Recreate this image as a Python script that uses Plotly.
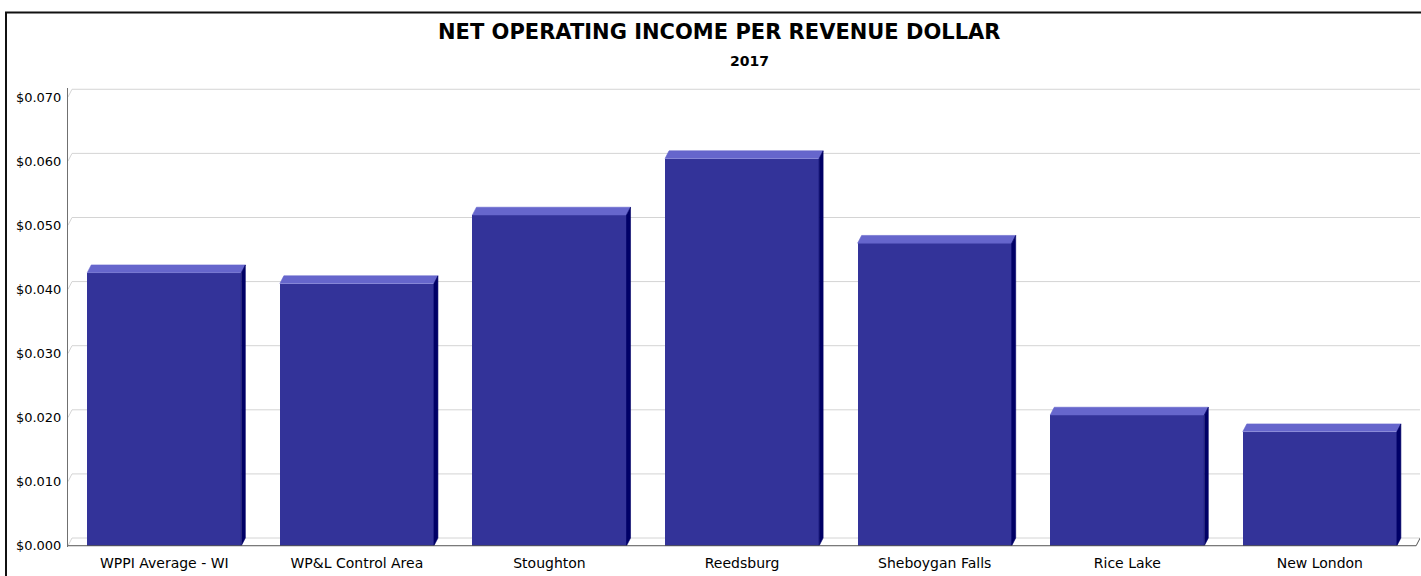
import plotly.graph_objects as go

# ---------------- data ----------------
categories = ["WPPI Average - WI", "WP&L Control Area", "Stoughton", "Reedsburg",
              "Sheboygan Falls", "Rice Lake", "New London"]
values = [0.0426, 0.0409, 0.0516, 0.0604, 0.0472, 0.0204, 0.0178]
y_ticks = [0.0, 0.01, 0.02, 0.03, 0.04, 0.05, 0.06, 0.07]
y_tick_labels = ["$0.000", "$0.010", "$0.020", "$0.030", "$0.040", "$0.050", "$0.060", "$0.070"]
title_text = "NET OPERATING INCOME PER REVENUE DOLLAR"
subtitle_text = "2017"

# ---------------- layout geometry ----------------
FIG_W, FIG_H = 1421, 576
M_L, M_R, M_T, M_B = 68, 1, 88, 29
PLOT_W = FIG_W - M_L - M_R
PLOT_H = FIG_H - M_T - M_B
X_RANGE = [-0.5, len(categories) - 0.5 + 0.02]
Y_RANGE = [-0.0002, 0.0714]
BAR_W = 0.8
DEPTH_X_PX, DEPTH_Y_PX = 4.0, 7.7

x_per_px = (X_RANGE[1] - X_RANGE[0]) / PLOT_W
y_per_px = (Y_RANGE[1] - Y_RANGE[0]) / PLOT_H
dxu = DEPTH_X_PX * x_per_px
dyu = DEPTH_Y_PX * y_per_px

FRONT = "#333399"
TOP = "#6666cc"
SIDE = "#000066"
GRID = "#d4d4d4"
AXIS = "#707070"

xs = list(range(len(categories)))

fig = go.Figure()

# front faces
fig.add_trace(go.Bar(x=xs, y=values, width=BAR_W, marker=dict(color=FRONT, line=dict(width=0)),
                     hoverinfo="skip", showlegend=False))

# top faces
tx, ty = [], []
for i, v in zip(xs, values):
    l, r = i - BAR_W / 2, i + BAR_W / 2
    tx += [l, l + dxu, r + dxu, r, l, None]
    ty += [v, v + dyu, v + dyu, v, v, None]
fig.add_trace(go.Scatter(x=tx, y=ty, mode="lines", fill="toself", fillcolor=TOP,
                         line=dict(width=0.6, color=TOP), hoverinfo="skip", showlegend=False))

# side faces
sx, sy = [], []
for i, v in zip(xs, values):
    r = i + BAR_W / 2
    sx += [r, r + dxu, r + dxu, r, r, None]
    sy += [v, v + dyu, dyu, 0, v, None]
fig.add_trace(go.Scatter(x=sx, y=sy, mode="lines", fill="toself", fillcolor=SIDE,
                         line=dict(width=0.6, color=SIDE), hoverinfo="skip", showlegend=False))

shapes = []
x_left = X_RANGE[0]
x_right_front = len(categories) - 0.5
x_right = X_RANGE[1]
# back wall gridlines with small depth diagonals
for t in y_ticks:
    shapes.append(dict(type="line", xref="x", yref="y", layer="below",
                       x0=x_left + dxu, x1=x_right, y0=t + dyu, y1=t + dyu,
                       line=dict(color=GRID, width=1)))
    shapes.append(dict(type="line", xref="x", yref="y", layer="below",
                       x0=x_left, x1=x_left + dxu, y0=t, y1=t + dyu,
                       line=dict(color=GRID, width=1)))
# front baseline and right-end diagonal
shapes.append(dict(type="line", xref="x", yref="y", layer="above",
                   x0=x_left, x1=x_right_front, y0=0, y1=0, line=dict(color="#555555", width=1)))
shapes.append(dict(type="line", xref="x", yref="y", layer="above",
                   x0=x_right_front, x1=x_right_front + dxu, y0=0, y1=dyu,
                   line=dict(color="#555555", width=1)))

# outer frame
def px_x(p):
    return (p - M_L) / PLOT_W

def px_y(p):
    return (FIG_H - M_B - p) / PLOT_H

shapes.append(dict(type="rect", xref="paper", yref="paper", layer="above",
                   x0=px_x(6), x1=px_x(1440), y0=px_y(600), y1=px_y(12.5),
                   line=dict(color="#111111", width=2), fillcolor="rgba(0,0,0,0)"))

annotations = [
    dict(text="<b>" + title_text + "</b>", xref="paper", yref="paper", x=px_x(719), y=px_y(32),
         xanchor="center", yanchor="middle", showarrow=False,
         font=dict(family="DejaVu Sans", size=21, color="#000000")),
    dict(text="<b>" + subtitle_text + "</b>", xref="paper", yref="paper", x=px_x(749), y=px_y(61),
         xanchor="center", yanchor="middle", showarrow=False,
         font=dict(family="DejaVu Sans", size=14, color="#000000")),
]

fig.update_layout(
    width=FIG_W, height=FIG_H,
    margin=dict(l=M_L, r=M_R, t=M_T, b=M_B, pad=0),
    paper_bgcolor="white", plot_bgcolor="white",
    shapes=shapes, annotations=annotations, showlegend=False,
    bargap=0, hovermode=False,
    xaxis=dict(range=X_RANGE, tickmode="array", tickvals=xs, ticktext=categories,
               showgrid=False, zeroline=False, showline=False, ticks="",
               ticklabelstandoff=6, fixedrange=True,
               tickfont=dict(family="DejaVu Sans", size=14, color="#000000")),
    yaxis=dict(range=Y_RANGE, tickmode="array", tickvals=y_ticks, ticktext=y_tick_labels,
               showgrid=False, zeroline=False, showline=True, linecolor=AXIS, linewidth=1,
               ticks="", ticklabelstandoff=3, fixedrange=True,
               tickfont=dict(family="DejaVu Sans", size=13, color="#000000")),
)

fig.write_html("out.html", config={"displayModeBar": False},
               post_script="document.body.style.margin='0px';")
